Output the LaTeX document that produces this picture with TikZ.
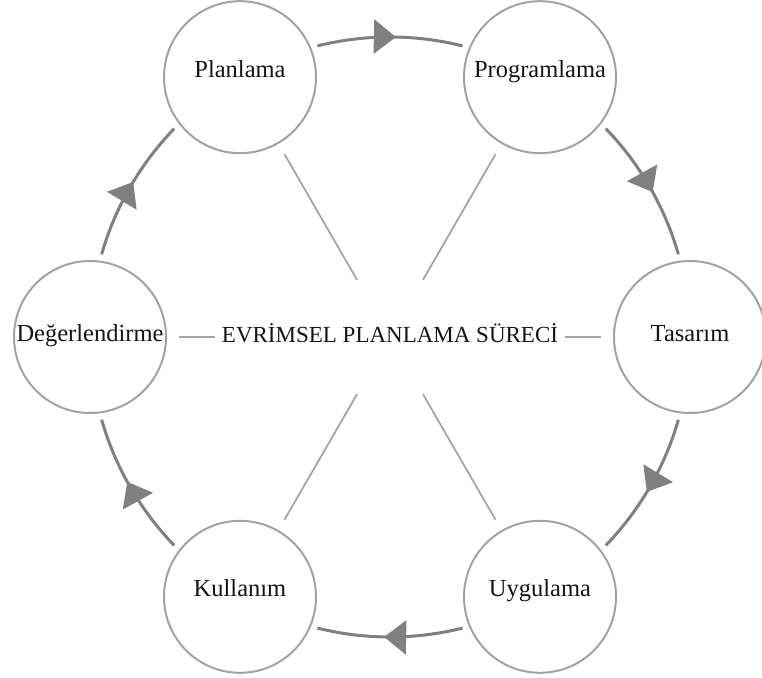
\documentclass[tikz,border=0pt]{standalone}
\usepackage{fontspec}
\setmainfont{Liberation Serif}
\usetikzlibrary{arrows.meta,decorations.markings,calc}
\definecolor{ringgray}{RGB}{162,162,162}
\definecolor{flowgray}{RGB}{128,128,128}
\definecolor{spokegray}{RGB}{165,165,165}
\definecolor{txt}{RGB}{20,20,20}
\begin{document}
\begin{tikzpicture}[x=1pt,y=1pt,
  stage/.style={circle, draw=ringgray, line width=2pt, minimum size=152pt, inner sep=0pt,
    text=txt, font=\fontsize{24.5}{29}\selectfont, text height=9pt, text depth=9pt},
  side/.style={text height=12pt, text depth=2pt},
  spoke/.style={draw=spokegray, line width=1.8pt, shorten >=12pt},
  flow/.style={draw=flowgray, line width=3pt, postaction={decorate},
    decoration={markings, mark=at position 0.54 with {\arrow[flowgray]{Triangle[length=22pt,width=34pt]}}}},
  hub/.style={text=txt, font=\fontsize{23}{28}\selectfont, minimum width=349pt, minimum height=114pt,
    inner sep=0pt, text height=16pt, text depth=4pt}
]
\path[use as bounding box] (0,0) rectangle (762,677);
\coordinate (o) at (390,340);

\node[hub] (c) at (o) {EVRİMSEL PLANLAMA SÜRECİ};

\node[stage] (n1) at ($(o)+(120:300)$) {Planlama};
\node[stage] (n2) at ($(o)+(60:300)$) {Programlama};
\node[stage,side] (n3) at ($(o)+(0:300)$) {Tasarım};
\node[stage] (n4) at ($(o)+(-60:300)$) {Uygulama};
\node[stage] (n5) at ($(o)+(-120:300)$) {Kullanım};
\node[stage,side] (n6) at ($(o)+(180:300)$) {Değerlendirme};

\foreach \n in {n1,n2,n3,n4,n5,n6}{
  \draw[spoke] (c) -- (\n);
}

\draw[flow] (o) ++(104:300) arc[start angle=104, end angle=76, radius=300];
\draw[flow] (o) ++(44:300) arc[start angle=44, end angle=16, radius=300];
\draw[flow] (o) ++(-16:300) arc[start angle=-16, end angle=-44, radius=300];
\draw[flow] (o) ++(-76:300) arc[start angle=-76, end angle=-104, radius=300];
\draw[flow] (o) ++(-136:300) arc[start angle=-136, end angle=-164, radius=300];
\draw[flow] (o) ++(164:300) arc[start angle=164, end angle=136, radius=300];
\end{tikzpicture}
\end{document}
